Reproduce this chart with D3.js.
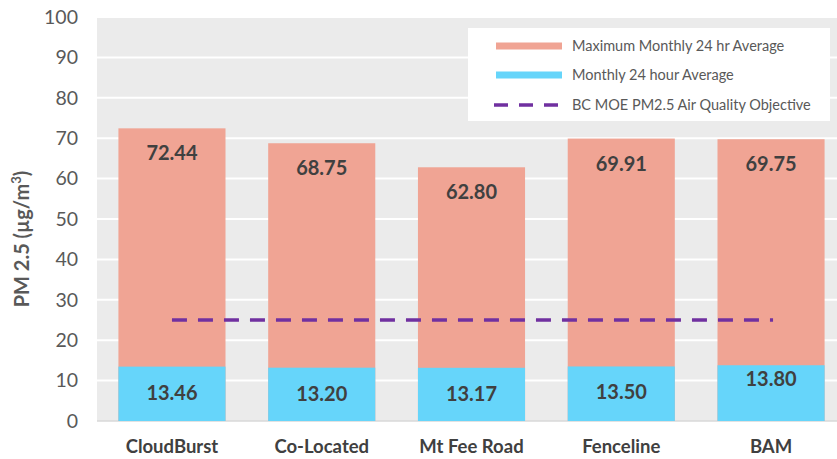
<!DOCTYPE html>
<html>
<head>
<meta charset="utf-8">
<script src="https://cdn.jsdelivr.net/npm/d3@7"></script>
<style>
  body { margin: 0; background: #fff; }
  svg { display: block; font-family: Lato, "Open Sans", sans-serif; }
</style>
</head>
<body>
<div id="chart"></div>
<script>
const categories = ["CloudBurst", "Co-Located", "Mt Fee Road", "Fenceline", "BAM"];
const maxMonthly = [72.44, 68.75, 62.80, 69.91, 69.75];
const monthlyAvg = [13.46, 13.20, 13.17, 13.50, 13.80];
const objective = 25;
const yTicks = [0, 10, 20, 30, 40, 50, 60, 70, 80, 90, 100];
const legendLabels = ["Maximum Monthly 24 hr Average", "Monthly 24 hour Average", "BC MOE PM2.5 Air Quality Objective"];

const width = 837, height = 459;
const plot = { left: 97, right: 846, top: 17, bottom: 421 };
const salmon = "#F0A494", cyan = "#66D5FA", purple = "#7030A0";

const svg = d3.select("#chart").append("svg")
  .attr("width", width)
  .attr("height", height);

const x = d3.scaleBand().domain(categories).range([plot.left, plot.right]).paddingInner(0.285).paddingOuter(0.143);
const y = d3.scaleLinear().domain([0, 100]).range([plot.bottom, plot.top]);

// plot background
svg.append("rect")
  .attr("x", plot.left).attr("y", plot.top)
  .attr("width", plot.right - plot.left).attr("height", plot.bottom - plot.top)
  .attr("fill", "#EBEBEB");

// gridlines
svg.append("g").selectAll("line").data(yTicks.slice(1)).join("line")
  .attr("x1", plot.left).attr("x2", plot.right)
  .attr("y1", d => y(d)).attr("y2", d => y(d))
  .attr("stroke", "#fff").attr("stroke-width", 2);

svg.append("line")
  .attr("x1", plot.left).attr("x2", plot.right)
  .attr("y1", y(0)).attr("y2", y(0))
  .attr("stroke", "#D9D9D9").attr("stroke-width", 1.5);

// y tick labels
svg.append("g").selectAll("text").data(yTicks).join("text")
  .attr("x", 78).attr("y", d => y(d))
  .attr("dy", "0.35em")
  .attr("text-anchor", "end")
  .attr("font-size", 19.5)
  .attr("fill", "#595959")
  .text(d => d);

// y title
svg.append("text")
  .attr("transform", `translate(29,${(plot.top + plot.bottom) / 2 + 20}) rotate(-90)`)
  .attr("text-anchor", "middle")
  .attr("font-size", 20)
  .attr("font-weight", "bold")
  .attr("fill", "#595959")
  .html('PM 2.5 (µg/m<tspan baseline-shift="super" font-size="13">3</tspan>)');

const rows = categories.map((c, i) => ({ cat: c, max: maxMonthly[i], avg: monthlyAvg[i] }));

const bars = svg.append("g");
bars.selectAll("rect.max").data(rows).join("rect")
  .attr("class", "max")
  .attr("x", d => x(d.cat)).attr("width", x.bandwidth())
  .attr("y", d => y(d.max)).attr("height", d => y(0) - y(d.max))
  .attr("fill", salmon);

bars.selectAll("rect.avg").data(rows).join("rect")
  .attr("class", "avg")
  .attr("x", d => x(d.cat)).attr("width", x.bandwidth())
  .attr("y", d => y(d.avg)).attr("height", d => y(0) - y(d.avg))
  .attr("fill", cyan);

// objective line
svg.append("line")
  .attr("x1", x(categories[0]) + x.bandwidth() / 2)
  .attr("x2", x(categories[categories.length - 1]) + x.bandwidth() / 2 + 2)
  .attr("y1", y(objective)).attr("y2", y(objective))
  .attr("stroke", purple).attr("stroke-width", 3.5)
  .attr("stroke-dasharray", "15 11");

// value labels
const labels = svg.append("g")
  .attr("font-size", 20).attr("font-weight", "bold")
  .attr("fill", "#404040").attr("text-anchor", "middle");

labels.selectAll("text.max").data(rows).join("text")
  .attr("x", d => x(d.cat) + x.bandwidth() / 2)
  .attr("y", d => y(d.max) + 25)
  .attr("dy", "0.35em")
  .text(d => d.max.toFixed(2));

labels.selectAll("text.avg").data(rows).join("text")
  .attr("x", d => x(d.cat) + x.bandwidth() / 2)
  .attr("y", d => y(d.avg) + (d.cat === "BAM" ? 14 : 26))
  .attr("dy", "0.35em")
  .text(d => d.avg.toFixed(2));

// category labels
svg.append("g").selectAll("text").data(categories).join("text")
  .attr("x", d => x(d) + x.bandwidth() / 2)
  .attr("y", 447)
  .attr("dy", "0.35em")
  .attr("text-anchor", "middle")
  .attr("font-size", 18.5)
  .attr("font-weight", "bold")
  .attr("fill", "#404040")
  .text(d => d);

// legend
const legend = svg.append("g");
legend.append("rect")
  .attr("x", 468).attr("y", 28).attr("width", 362).attr("height", 93)
  .attr("fill", "#fff");

const legendY = [46, 75, 105];
legendLabels.forEach((t, i) => {
  if (i < 2) {
    legend.append("rect")
      .attr("x", 496).attr("y", legendY[i] - 3.5).attr("width", 66).attr("height", 7)
      .attr("fill", i === 0 ? salmon : cyan);
  } else {
    legend.append("line")
      .attr("x1", 494).attr("x2", 564)
      .attr("y1", legendY[i]).attr("y2", legendY[i])
      .attr("stroke", purple).attr("stroke-width", 3.5)
      .attr("stroke-dasharray", "14 11");
  }
  legend.append("text")
    .attr("x", 572).attr("y", legendY[i])
    .attr("dy", "0.35em")
    .attr("font-size", 14.5)
    .attr("fill", "#595959")
    .text(t);
});
</script>
</body>
</html>
